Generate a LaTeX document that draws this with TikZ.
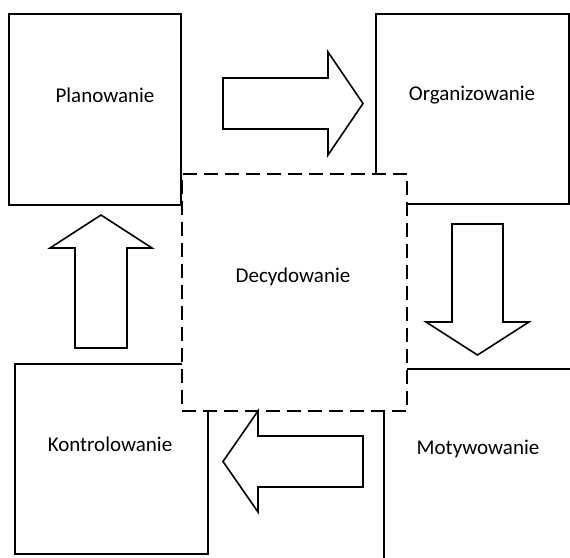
\documentclass[tikz,border=0pt]{standalone}
\usepackage{fontspec}
\setmainfont{Carlito}
\begin{document}
\begin{tikzpicture}[x=1pt,y=-1pt,
  box/.style={draw=black,line width=1.7pt,fill=white,rectangle,inner sep=0pt,anchor=north west},
  dbox/.style={box,dash pattern=on 14pt off 7pt},
  lbl/.style={font=\fontsize{21}{25}\selectfont,inner sep=0pt},
  blockarrow/.style={draw=black,line width=1.6pt,fill=white,line join=miter}]
\clip (0,0) rectangle (570,557);
\fill[white] (0,0) rectangle (570,557);
% outer boxes
\node[box,minimum width=172pt,minimum height=191pt] (plan) at (8,13) {};
\node[box,minimum width=193pt,minimum height=190pt] (org) at (375,13) {};
\node[box,minimum width=193pt,minimum height=190pt] (kon) at (14,363) {};
\node[box,minimum width=220pt,minimum height=220pt] (mot) at (383,368) {};
% central dashed box
\node[dbox,minimum width=225pt,minimum height=237pt] (dec) at (181,173) {};
% labels
\node[lbl] (planl) at (105,95) {Planowanie};
\node[lbl] (orgl) at (472,95) {Organizowanie};
\node[lbl] (decl) at (293,277) {Decydowanie};
\node[lbl] (konl) at (110,444) {Kontrolowanie};
\node[lbl] (motl) at (478,449) {Motywowanie};
% block arrows
\draw[blockarrow] (223,78) -- (328,78) -- (328,52) -- (363,103.5) -- (328,155) -- (328,129) -- (223,129) -- cycle;
\draw[blockarrow] (452,224) -- (503,224) -- (503,322) -- (529,322) -- (477.5,355) -- (426,322) -- (452,322) -- cycle;
\draw[blockarrow] (363,436) -- (258,436) -- (258,411) -- (223,461.5) -- (258,512) -- (258,487) -- (363,487) -- cycle;
\draw[blockarrow] (75,348) -- (75,248) -- (50,248) -- (101,215) -- (152,248) -- (127,248) -- (127,348) -- cycle;
\end{tikzpicture}
\end{document}
